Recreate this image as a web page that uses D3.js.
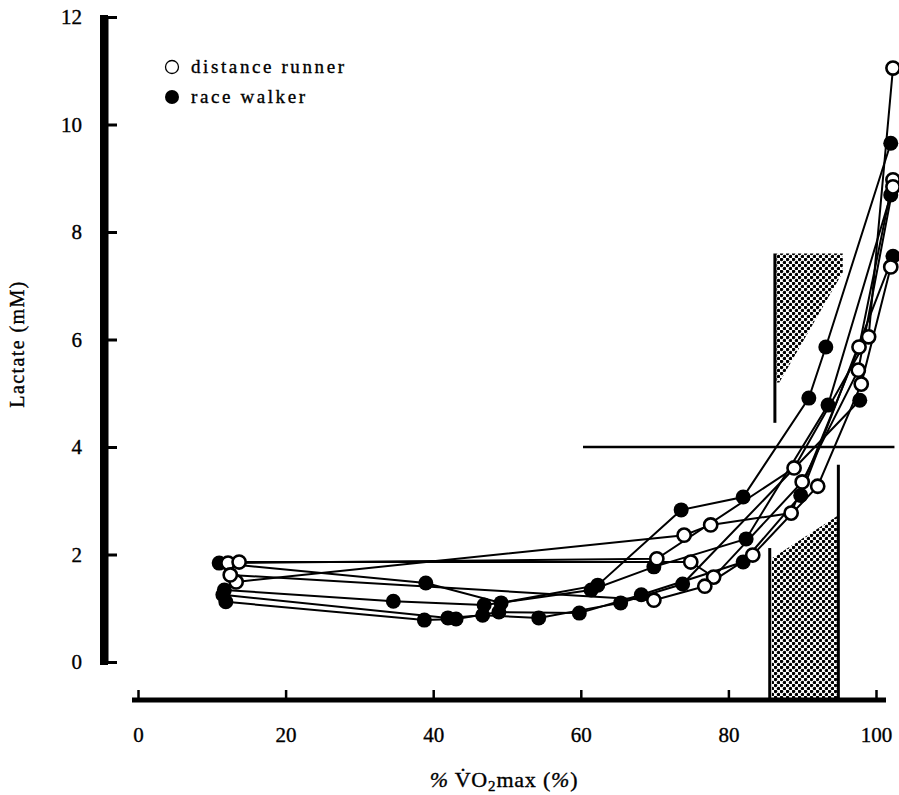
<!DOCTYPE html>
<html>
<head>
<meta charset="utf-8">
<script src="https://cdn.jsdelivr.net/npm/d3@7"></script>
<style>
  html, body { margin: 0; padding: 0; background: #fff; }
  svg { display: block; }
  text { font-family: "Liberation Serif", "Times New Roman", serif; fill: #000; stroke: #000; stroke-width: 0.35; }
</style>
</head>
<body>
<svg id="chart" width="899" height="795"></svg>
<script>
// Axis ticks
const xTicks = [0, 20, 40, 60, 80, 100];
const yTicks = [0, 2, 4, 6, 8, 10, 12];

// Distance runners: [%VO2max, lactate mM]
const runnerA = [[12.2, 1.84], [70.3, 1.92], [88.9, 3.61], [99.0, 6.05], [102.3, 11.05]];
const runnerB = [[13.3, 1.49], [74.0, 2.36], [77.6, 2.55], [88.5, 2.77], [97.7, 5.86], [102.3, 8.97]];
const runnerC = [[13.7, 1.86], [74.9, 1.86], [78.0, 1.58], [90.0, 3.35], [97.6, 5.43], [102.3, 8.84]];
const runnerD = [[12.5, 1.62], [69.9, 1.15], [76.8, 1.41], [83.3, 1.99], [92.1, 3.27], [98.0, 5.17], [102.0, 7.35]];

// Race walkers: [%VO2max, lactate mM]
const walkerA = [[11.0, 1.84], [39.0, 1.47], [49.2, 1.10], [62.3, 1.43], [73.6, 2.83], [82.0, 3.07], [90.9, 4.91], [93.2, 5.86], [102.0, 9.65]];
const walkerB = [[11.7, 1.34], [34.6, 1.13], [46.9, 1.06], [61.4, 1.34], [69.9, 1.77], [82.4, 2.29], [93.5, 4.78], [102.0, 8.69]];
const walkerC = [[11.9, 1.12], [38.8, 0.78], [43.1, 0.80], [48.9, 0.93], [59.8, 0.91], [68.2, 1.25], [82.0, 1.86], [89.8, 3.10], [102.3, 7.55]];
const walkerD = [[11.5, 1.25], [42.0, 0.82], [46.7, 0.87], [54.3, 0.82], [65.4, 1.10], [73.8, 1.45], [97.8, 4.87]];

const runners = [runnerA, runnerB, runnerC, runnerD];
const walkers = [walkerA, walkerB, walkerC, walkerD];

// 4 mM reference line and threshold zones (data units)
const lactateRef = { x0: 60.3, x1: 102.5, y: 4 };
const upperZone = [[86.5, 7.6], [95.5, 7.6], [95.5, 7.25], [86.9, 5.2], [86.5, 5.2]];
const upperZoneEdge = [[86.3, 7.6], [86.3, 4.45]];
const lowerZone = [[85.9, 1.93], [94.9, 2.73], [94.9, -0.7], [85.9, -0.7]];
const lowerZoneLeft = [[85.6, 2.12], [85.6, -0.7]];
const lowerZoneRight = [[94.9, 3.67], [94.9, -0.7]];

const legendItems = [
  { label: "distance runner", filled: false },
  { label: "race walker", filled: true }
];

const svg = d3.select("#chart");
const x = d3.scaleLinear().domain([0, 100]).range([138, 876]);
const y = d3.scaleLinear().domain([0, 12]).range([662, 17]);
const xAxisY = 700;
const yAxisX = 104;

// halftone dot fill
const defs = svg.append("defs");
const pat = defs.append("pattern")
  .attr("id", "dots").attr("patternUnits", "userSpaceOnUse")
  .attr("width", 6).attr("height", 6);
pat.append("rect").attr("width", 6).attr("height", 6).attr("fill", "#fff");
pat.append("circle").attr("cx", 1.5).attr("cy", 1.5).attr("r", 1.75).attr("fill", "#000");
pat.append("circle").attr("cx", 4.5).attr("cy", 4.5).attr("r", 1.75).attr("fill", "#000");

const line = d3.line().x(d => x(d[0])).y(d => y(d[1]));

// threshold zones
svg.append("path").attr("d", line(upperZone) + "Z").attr("fill", "url(#dots)");
svg.append("path").attr("d", line(lowerZone) + "Z").attr("fill", "url(#dots)");
[upperZoneEdge, lowerZoneLeft, lowerZoneRight].forEach(seg => {
  svg.append("path").attr("d", line(seg)).attr("stroke", "#000")
    .attr("stroke-width", 3).attr("fill", "none");
});

// 4 mM line
svg.append("line")
  .attr("x1", x(lactateRef.x0)).attr("x2", x(lactateRef.x1))
  .attr("y1", y(lactateRef.y)).attr("y2", y(lactateRef.y))
  .attr("stroke", "#000").attr("stroke-width", 2.4);

// Y axis
const yAxis = svg.append("g").attr("transform", `translate(${yAxisX},0)`)
  .call(d3.axisRight(y).tickValues(yTicks).tickSize(13).tickSizeOuter(0).tickFormat(""));
yAxis.select(".domain").attr("stroke-width", 8).attr("stroke", "#000");
yAxis.selectAll(".tick line").attr("stroke-width", 3).attr("stroke", "#000");
svg.append("line").attr("x1", yAxisX).attr("x2", yAxisX)
  .attr("y1", y(12) - 2).attr("y2", y(0) + 3)
  .attr("stroke", "#000").attr("stroke-width", 8);

const yLabels = svg.append("g").attr("transform", "translate(82,0)")
  .call(d3.axisLeft(y).tickValues(yTicks).tickSize(0).tickPadding(0));
yLabels.select(".domain").remove();
yLabels.selectAll("text").attr("font-size", 21)
  .style("font-family", "'Liberation Serif', serif").attr("fill", "#000");

// X axis
const xAxis = svg.append("g").attr("transform", `translate(0,${xAxisY})`)
  .call(d3.axisTop(x).tickValues(xTicks).tickSize(10).tickSizeOuter(0).tickFormat(""));
xAxis.select(".domain").remove();
xAxis.selectAll(".tick line").attr("stroke-width", 2.5).attr("stroke", "#000");
svg.append("line").attr("x1", x(0) - 6).attr("x2", x(100) + 10)
  .attr("y1", xAxisY).attr("y2", xAxisY)
  .attr("stroke", "#000").attr("stroke-width", 5);

const xLabels = svg.append("g").attr("transform", `translate(0,${xAxisY})`)
  .call(d3.axisBottom(x).tickValues(xTicks).tickSize(0).tickPadding(27));
xLabels.select(".domain").remove();
xLabels.selectAll("text").attr("font-size", 21)
  .style("font-family", "'Liberation Serif', serif").attr("fill", "#000");

// axis titles
svg.append("text")
  .attr("transform", "translate(24,344) rotate(-90)")
  .attr("text-anchor", "middle").attr("font-size", 20)
  .attr("letter-spacing", 1.4)
  .text("Lactate (mM)");

const xt = svg.append("text").attr("x", 504).attr("y", 787)
  .attr("text-anchor", "middle").attr("font-size", 22).attr("letter-spacing", 0.8);
xt.append("tspan").attr("font-style", "italic").text("%");
xt.append("tspan").text(" V\u0307O");
xt.append("tspan").attr("font-size", 15).attr("dy", 4).text("2");
xt.append("tspan").attr("dy", -4).text("max (");
xt.append("tspan").attr("font-style", "italic").text("%");
xt.append("tspan").text(")");

// subject lines
const allSeries = runners.concat(walkers);
svg.append("g").selectAll("path").data(allSeries).join("path")
  .attr("d", line).attr("fill", "none")
  .attr("stroke", "#000").attr("stroke-width", 2);

// markers
svg.append("g").selectAll("g").data(walkers).join("g")
  .selectAll("circle").data(d => d).join("circle")
  .attr("cx", d => x(d[0])).attr("cy", d => y(d[1])).attr("r", 7.5)
  .attr("fill", "#000");
svg.append("g").selectAll("g").data(runners).join("g")
  .selectAll("circle").data(d => d).join("circle")
  .attr("cx", d => x(d[0])).attr("cy", d => y(d[1])).attr("r", 6.6)
  .attr("fill", "#fff").attr("stroke", "#000").attr("stroke-width", 2.6);

// legend
const leg = svg.append("g");
legendItems.forEach((it, i) => {
  const cy = 67 + i * 30;
  leg.append("circle").attr("cx", 172).attr("cy", cy).attr("r", it.filled ? 7 : 6.5)
    .attr("fill", it.filled ? "#000" : "#fff")
    .attr("stroke", "#000").attr("stroke-width", it.filled ? 0 : 1.3);
  leg.append("text").attr("x", 191).attr("y", cy + 6)
    .attr("font-size", 19).attr("letter-spacing", 2.6)
    .text(it.label);
});
</script>
</body>
</html>
